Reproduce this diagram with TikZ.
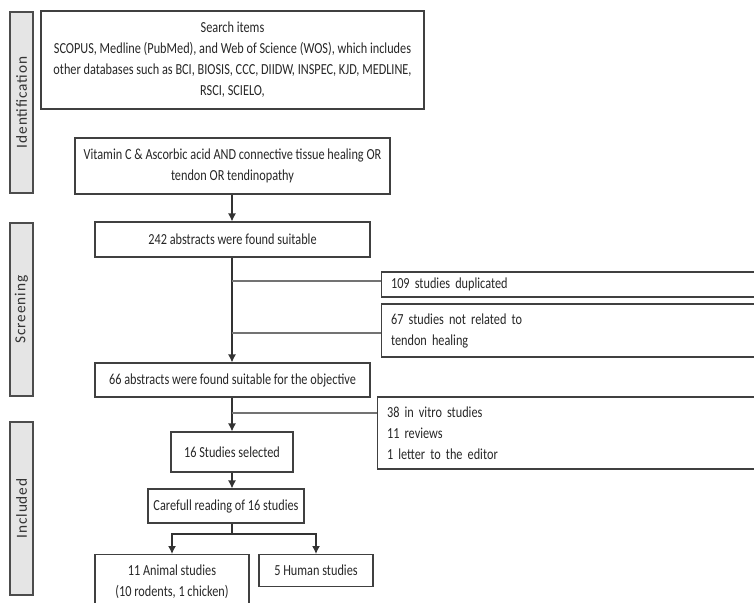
\documentclass[tikz,border=0pt]{standalone}
\usepackage{fontspec}
\setmainfont[FakeStretch=0.8]{Carlito}
\newfontfamily\barfont[LetterSpace=6]{Carlito}
\usetikzlibrary{arrows.meta}
\usetikzlibrary{positioning}

\tikzset{
    box/.style={draw=black!75, line width=0.8pt, align=center, inner sep=2pt,
        font=\fontsize{11.5}{15.75}\selectfont, text=black!85},
    sidebox/.style={box, anchor=west, align=left, text width=300pt, minimum width=314.25pt},
    phase/.style={draw=black!70, line width=1.2pt, fill=black!10, minimum width=17.25pt,
        minimum height=129.75pt, font=\barfont\fontsize{11.5}{12}\selectfont, text=black!80},
    flow/.style={-{Latex[length=6pt,width=6pt]}, line width=1pt, draw=black!80},
    branch/.style={line width=1.2pt, draw=black!55}
}

\begin{document}
\begin{tikzpicture}[x=0.75pt, y=-0.75pt]
\useasboundingbox (0,0) rectangle (754,603);

% phase bars
\node (idbar) [phase, minimum height=135.75pt] at (21.5,102.5) {\rotatebox{90}{Identification}};
\node (scrbar) [phase] at (21.5,309.5) {\rotatebox{90}{Screening}};
\node (incbar) [phase] at (21.5,508.5) {\rotatebox{90}{Included}};

% main column
\node (search) [box, minimum width=287.25pt, minimum height=73.5pt] at (232.5,60) {Search items\\
    SCOPUS, Medline (PubMed), and Web of Science (WOS), which includes\\
    other  databases such as BCI, BIOSIS, CCC, DIIDW, INSPEC,  KJD,  MEDLINE,\\
    RSCI, SCIELO,};
\node (query) [box, minimum width=236.25pt, minimum height=42pt] at (232.5,166) {Vitamin C \& Ascorbic acid AND connective tissue healing OR\\
    tendon  OR tendinopathy};
\node (found242) [box, minimum width=206.25pt, minimum height=26.25pt] at (232.5,239.5) {242 abstracts were found suitable};
\node (found66) [box, minimum width=206.25pt, minimum height=25.5pt] at (232.5,380) {66 abstracts were found suitable for the  objective};
\node (sel16) [box, minimum width=91.5pt, minimum height=30pt] at (232,452) {16 Studies selected};
\node (read) [box, minimum width=117pt, minimum height=25.5pt] at (226,506) {Carefull reading of 16 studies};
\node (animal) [box, anchor=north, minimum width=115.5pt, minimum height=41.25pt] at (172,554) {11 Animal studies\\
    (10 rodents, 1 chicken)};
\node (human) [box, anchor=north, minimum width=85.5pt, minimum height=24pt] at (316,554) {5 Human studies};

% excluded
\node (dup109) [sidebox, minimum height=18.75pt] at (381,284.5) {109 studies duplicated};
\node (notrel67) [sidebox, minimum height=39.75pt] at (381,330.5) {67 studies not related to\\
    tendon healing};
\node (excl) [sidebox, minimum height=54pt] at (377,433) {38  in vitro studies\\
    11 reviews\\
    1  letter to the editor};

\coordinate (split) at (232,534);

\draw [flow] (query.south -| split) -- (found242.north -| split);
\draw [flow] (found242.south -| split) -- (found66.north -| split);
\draw [flow] (found66.south -| split) -- (sel16.north -| split);
\draw [flow] (sel16.south -| split) -- (read.north -| split);
\draw [line width=1pt, draw=black!80] (read.south -| split) -- (split);
\draw [flow] (split) -| (animal.north);
\draw [flow] (split) -| (human.north);

\draw [branch] (232,281) -- (dup109.west |- 0,281);
\draw [branch] (232,333) -- (notrel67.west |- 0,333);
\draw [branch] (232,413) -- (excl.west |- 0,413);
\end{tikzpicture}
\end{document}
